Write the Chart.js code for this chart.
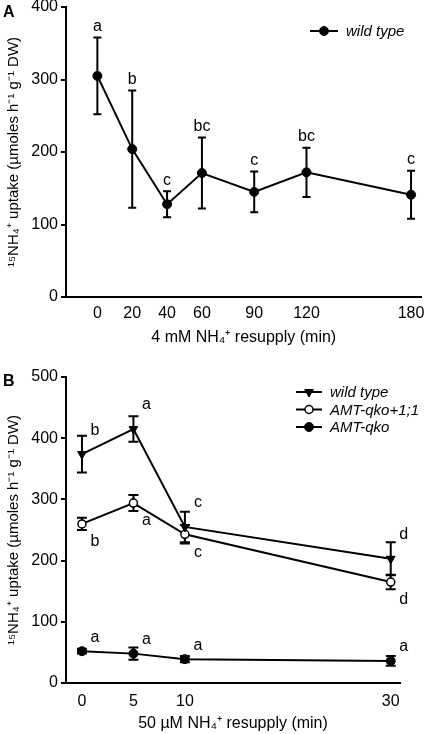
<!DOCTYPE html>
<html>
<head>
<meta charset="utf-8">
<script src="https://cdn.jsdelivr.net/npm/chart.js@4.4.0/dist/chart.umd.min.js"></script>
<style>
body { margin: 0; background: #fff; }
.panel { position: absolute; left: 0; width: 427px; }
#panelA { top: 0; height: 352px; }
#panelB { top: 358px; height: 376px; }
</style>
</head>
<body>
<div class="panel" id="panelA"><canvas id="chartA"></canvas></div>
<div class="panel" id="panelB"><canvas id="chartB"></canvas></div>
<script>
// Panel A: 4 mM resupply
const timesA = [0, 20, 40, 60, 90, 120, 180];
const uptakeA = [305, 204, 128, 171, 145, 172, 141];
const errA = [53, 81, 18, 49, 28, 34, 33];
const lettersA = ['a', 'b', 'c', 'bc', 'c', 'bc', 'c'];

// Panel B: 50 µM resupply
const timesB = [0, 5, 10, 30];
const wildTypeB = [374, 415, 255, 203];
const wildTypeErrB = [30, 21, 25, 27];
const wildTypeLettersB = ['b', 'a', 'c', 'd'];
const qko11B = [260, 294, 243, 165];
const qko11ErrB = [10, 13, 15, 12];
const qko11LettersB = ['b', 'a', 'c', 'd'];
const qkoB = [52, 48, 39, 36];
const qkoErrB = [4, 10, 5, 8];
const qkoLettersB = ['a', 'a', 'a', 'a'];

const FONT = "'Liberation Sans', Arial, sans-serif";
const yTitle = '¹⁵NH₄⁺ uptake (µmoles h⁻¹ g⁻¹ DW)';

function pairs(xs, ys) {
    return xs.map((x, i) => ({ x: x, y: ys[i] }));
}

// error bars (under the markers) and significance letters
const errorBarPlugin = {
    id: 'errorBars',
    beforeDatasetsDraw(chart) {
        const ctx = chart.ctx;
        const yScale = chart.scales.y;
        const cap = chart.options.plugins.errorBars.cap;
        chart.data.datasets.forEach((ds, i) => {
            const meta = chart.getDatasetMeta(i);
            meta.data.forEach((pt, j) => {
                const v = ds.data[j].y;
                const e = ds.errors[j];
                const top = yScale.getPixelForValue(v + e);
                const bot = yScale.getPixelForValue(v - e);
                ctx.save();
                ctx.strokeStyle = '#000';
                ctx.lineWidth = 2;
                ctx.beginPath();
                ctx.moveTo(pt.x, top); ctx.lineTo(pt.x, bot);
                ctx.moveTo(pt.x - cap, top); ctx.lineTo(pt.x + cap, top);
                ctx.moveTo(pt.x - cap, bot); ctx.lineTo(pt.x + cap, bot);
                ctx.stroke();
                ctx.restore();
            });
        });
    },
    afterDatasetsDraw(chart) {
        const ctx = chart.ctx;
        const yScale = chart.scales.y;
        ctx.save();
        ctx.fillStyle = '#000';
        ctx.font = '16px ' + FONT;
        ctx.textAlign = 'center';
        ctx.textBaseline = 'middle';
        chart.data.datasets.forEach((ds, i) => {
            const meta = chart.getDatasetMeta(i);
            meta.data.forEach((pt, j) => {
                let lx, ly;
                if (ds.letterAbove) {
                    lx = pt.x;
                    ly = yScale.getPixelForValue(ds.data[j].y + ds.errors[j]) - 11;
                } else {
                    lx = pt.x + ds.letterDx;
                    ly = pt.y + ds.letterDy;
                }
                ctx.fillText(ds.letters[j], lx, ly);
            });
        });
        ctx.restore();
    }
};

// legend: short line with the marker, italic label; plus the panel letter
const sketchLegendPlugin = {
    id: 'sketchLegend',
    afterDraw(chart) {
        const o = chart.options.plugins.sketchLegend;
        const ctx = chart.ctx;
        ctx.save();
        ctx.fillStyle = '#000';
        ctx.font = 'bold 16px ' + FONT;
        ctx.textAlign = 'left';
        ctx.textBaseline = 'alphabetic';
        ctx.fillText(o.panel, o.panelX, o.panelY);

        chart.data.datasets.forEach((ds, i) => {
            const y = o.y + i * o.rowHeight;
            ctx.strokeStyle = '#000';
            ctx.lineWidth = 2;
            ctx.beginPath();
            ctx.moveTo(o.x, y);
            ctx.lineTo(o.x + o.lineLen, y);
            ctx.stroke();
            ctx.fillStyle = ds.pointBackgroundColor;
            ctx.strokeStyle = '#000';
            ctx.lineWidth = ds.pointBorderWidth;
            Chart.helpers.drawPoint(ctx, {
                pointStyle: ds.pointStyle,
                radius: ds.pointRadius,
                rotation: ds.pointRotation || 0,
                borderWidth: ds.pointBorderWidth
            }, o.x + o.lineLen / 2, y);
            ctx.fillStyle = '#000';
            ctx.font = 'italic 15px ' + FONT;
            ctx.textBaseline = 'middle';
            ctx.fillText(ds.label, o.x + o.lineLen + 8, y + 1);
        });
        ctx.restore();
    }
};

function axes(xMin, xMax, xTicks, yMax, xTitle, xHeight, tickPad, titlePad) {
    return {
        x: {
            type: 'linear',
            min: xMin,
            max: xMax,
            afterBuildTicks: (scale) => { scale.ticks = xTicks.map(v => ({ value: v })); },
            afterFit: (scale) => {
                scale.height = xHeight;
                scale.paddingLeft = 0;
                scale.paddingRight = 0;
            },
            grid: { display: false, drawTicks: false },
            border: { display: true, color: '#000', width: 2 },
            ticks: { color: '#000', font: { family: FONT, size: 16 }, padding: tickPad, maxRotation: 0 },
            title: { display: true, text: xTitle, color: '#000', font: { family: FONT, size: 16 }, padding: { top: 4, bottom: titlePad } }
        },
        y: {
            min: 0,
            max: yMax,
            afterFit: (scale) => {
                scale.width = 66;
                scale.paddingTop = 0;
                scale.paddingBottom = 0;
            },
            grid: { display: true, drawOnChartArea: false, drawTicks: true, tickLength: 5, color: '#000', lineWidth: 2 },
            border: { display: true, color: '#000', width: 2 },
            ticks: { stepSize: 100, color: '#000', font: { family: FONT, size: 16 }, padding: 3 },
            title: { display: true, text: yTitle, color: '#000', font: { family: FONT, size: 15 }, padding: { top: 5, bottom: 0 } }
        }
    };
}

const chartA = new Chart(document.getElementById('chartA').getContext('2d'), {
    type: 'line',
    data: {
        datasets: [{
            label: 'wild type',
            data: pairs(timesA, uptakeA),
            errors: errA,
            letters: lettersA,
            letterAbove: true,
            borderColor: '#000',
            borderWidth: 2,
            pointStyle: 'circle',
            pointRadius: 4.5,
            pointBackgroundColor: '#000',
            pointBorderColor: '#000',
            pointBorderWidth: 1
        }]
    },
    options: {
        responsive: true,
        maintainAspectRatio: false,
        animation: false,
        layout: { padding: { top: 7, right: 5, left: 0, bottom: 0 } },
        plugins: {
            legend: { display: false },
            tooltip: { enabled: false },
            errorBars: { cap: 4 },
            sketchLegend: { panel: 'A', panelX: 3, panelY: 17, x: 310, y: 31, rowHeight: 17, lineLen: 28 }
        },
        scales: axes(-18, 186, timesA, 400, '4 mM NH₄⁺ resupply (min)', 55, 7, 5)
    },
    plugins: [errorBarPlugin, sketchLegendPlugin]
});

const chartB = new Chart(document.getElementById('chartB').getContext('2d'), {
    type: 'line',
    data: {
        datasets: [{
            label: 'wild type',
            data: pairs(timesB, wildTypeB),
            errors: wildTypeErrB,
            letters: wildTypeLettersB,
            letterDx: 13,
            letterDy: -24,
            borderColor: '#000',
            borderWidth: 2,
            pointStyle: 'triangle',
            pointRotation: 180,
            pointRadius: 5,
            pointBackgroundColor: '#000',
            pointBorderColor: '#000',
            pointBorderWidth: 1
        }, {
            label: 'AMT-qko+1;1',
            data: pairs(timesB, qko11B),
            errors: qko11ErrB,
            letters: qko11LettersB,
            letterDx: 13,
            letterDy: 18,
            borderColor: '#000',
            borderWidth: 2,
            pointStyle: 'circle',
            pointRadius: 4,
            pointBackgroundColor: '#fff',
            pointBorderColor: '#000',
            pointBorderWidth: 1.5
        }, {
            label: 'AMT-qko',
            data: pairs(timesB, qkoB),
            errors: qkoErrB,
            letters: qkoLettersB,
            letterDx: 13,
            letterDy: -14,
            borderColor: '#000',
            borderWidth: 2,
            pointStyle: 'circle',
            pointRadius: 4.5,
            pointBackgroundColor: '#000',
            pointBorderColor: '#000',
            pointBorderWidth: 1
        }]
    },
    options: {
        responsive: true,
        maintainAspectRatio: false,
        animation: false,
        layout: { padding: { top: 19, right: 27, left: 0, bottom: 0 } },
        plugins: {
            legend: { display: false },
            tooltip: { enabled: false },
            errorBars: { cap: 5 },
            sketchLegend: { panel: 'B', panelX: 3, panelY: 28, x: 296, y: 34, rowHeight: 17.5, lineLen: 26 }
        },
        scales: axes(-1.55, 30.9, timesB, 500, '50 µM NH₄⁺ resupply (min)', 51, 9, 1)
    },
    plugins: [errorBarPlugin, sketchLegendPlugin]
});
</script>
</body>
</html>
